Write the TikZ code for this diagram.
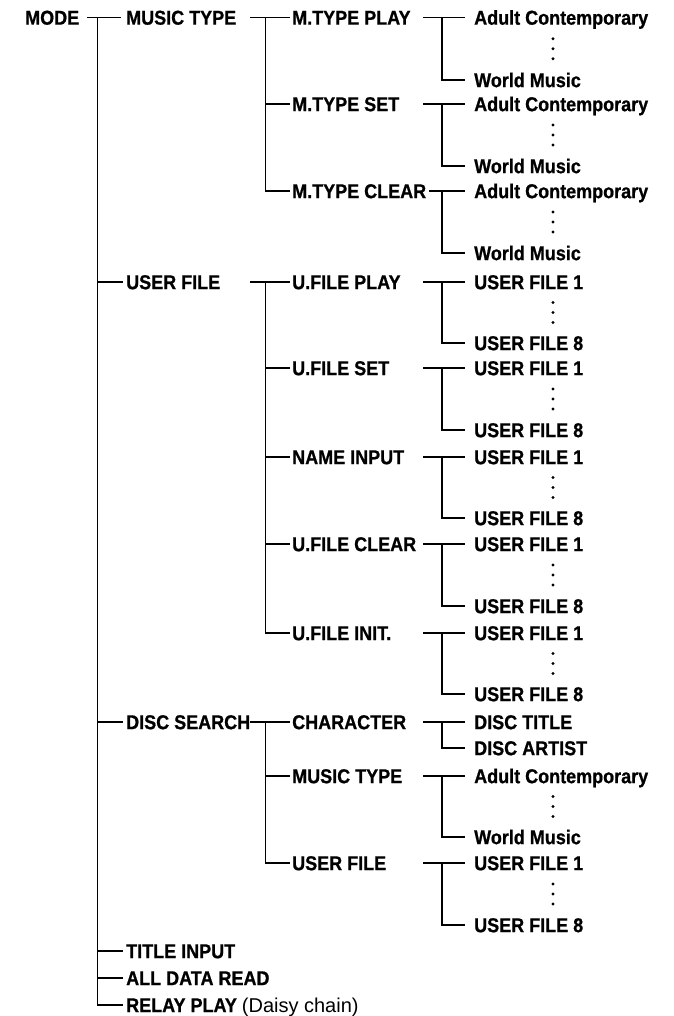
\documentclass[tikz,border=0pt]{standalone}
\usepackage{fontspec}
\setmainfont{Liberation Sans}[FakeStretch=0.9,BoldFeatures={FakeBold=0.8}]
\newfontfamily\plainsans{Liberation Sans}
\begin{document}
\begin{tikzpicture}[x=1pt,y=-1pt,
  lbl/.style={anchor=west,inner sep=0pt,text height=14.3pt,text depth=0pt,font=\bfseries\fontsize{20}{24}\selectfont},
  ln/.style={line width=1.1pt,line cap=rect}]
\useasboundingbox (0,0) rectangle (673,1016);
% level 0 and 1
\node[lbl] (mode) at (25,17.5) {MODE};
\node[lbl] (mt) at (126,17.5) {MUSIC TYPE};
\node[lbl] (uf) at (126,282) {USER FILE};
\node[lbl] (ds) at (126,722) {DISC SEARCH};
\node[lbl] (ti) at (126,951) {TITLE INPUT};
\node[lbl] (ad) at (126,978) {ALL DATA READ};
\node[lbl] (rp) at (126,1005) {RELAY PLAY {\plainsans\mdseries (Daisy chain)}};
% level 2
\node[lbl] (mtp) at (292,17.5) {M.TYPE PLAY};
\node[lbl] (mts) at (292,104) {M.TYPE SET};
\node[lbl] (mtc) at (292,191) {M.TYPE CLEAR};
\node[lbl] (ufp) at (292,282) {U.FILE PLAY};
\node[lbl] (ufs) at (292,368) {U.FILE SET};
\node[lbl] (ni) at (292,457) {NAME INPUT};
\node[lbl] (ufc) at (292,544) {U.FILE CLEAR};
\node[lbl] (ufi) at (292,633) {U.FILE INIT.};
\node[lbl] (ch) at (292,722) {CHARACTER};
\node[lbl] (dmt) at (292,776) {MUSIC TYPE};
\node[lbl] (duf) at (292,863) {USER FILE};
% level 3 with dots
\foreach \n/\ya/\yb/\sx/\ta/\tb in {
  mtp/17.5/80/424/Adult Contemporary/World Music,
  mts/104/166/424/Adult Contemporary/World Music,
  mtc/191/253/430/Adult Contemporary/World Music,
  ufp/282/343/424/USER FILE 1/USER FILE 8,
  ufs/368/430/424/USER FILE 1/USER FILE 8,
  ni/457/518/424/USER FILE 1/USER FILE 8,
  ufc/544/606/424/USER FILE 1/USER FILE 8,
  ufi/633/694/424/USER FILE 1/USER FILE 8,
  dmt/776/837/424/Adult Contemporary/World Music,
  duf/863/925/424/USER FILE 1/USER FILE 8}{
  \node[lbl] (\n-top) at (474,\ya) {\ta};
  \node[lbl] (\n-bot) at (474,\yb) {\tb};
  \coordinate (\n-start) at (\sx,\ya);
  \coordinate (\n-junc) at (442,\ya);
  \draw[ln,shorten >=10pt] (\n-start) -- (\n-top.west);
  \draw[ln,shorten >=10pt] (\n-junc) |- (\n-bot.west);
  \pgfmathsetmacro{\m}{(\ya+\yb)/2}
  \foreach \d in {-10,0,10} \fill (553,\m+\d) circle (1.6pt);
}
% character
\node[lbl] (ch-top) at (474,722) {DISC TITLE};
\node[lbl] (ch-bot) at (474,748) {DISC ARTIST};
\coordinate (ch-start) at (424,722);
\coordinate (ch-junc) at (442,722);
\draw[ln,shorten >=10pt] (ch-start) -- (ch-top.west);
\draw[ln,shorten >=10pt] (ch-junc) |- (ch-bot.west);
% level 1 -> level 2 connectors
\foreach \p/\r/\c/\l in {mt/17.5/mtp/mtc, uf/282/ufp/ufi, ds/722/ch/duf}{
  \coordinate (\p-start) at (251,\r);
  \coordinate (\p-junc) at (265.7,\r);
  \draw[ln,shorten >=3pt] (\p-start) -- (\c.west);
  \draw[ln,shorten >=3pt] (\p-junc) |- (\l.west);
}
\foreach \p/\c in {mt/mts, uf/ufs, uf/ni, uf/ufc, ds/dmt}{
  \draw[ln,shorten >=3pt] (\p-junc |- \c.west) -- (\c.west);
}
% level 0 -> level 1
\coordinate (mode-start) at (88,17.5);
\coordinate (mode-junc) at (97.7,17.5);
\draw[ln,shorten >=6pt] (mode-start) -- (mt.west);
\draw[ln,shorten >=4pt] (mode-junc) |- (rp.west);
\foreach \c in {uf, ds, ti, ad}{
  \draw[ln,shorten >=4pt] (mode-junc |- \c.west) -- (\c.west);
}
\end{tikzpicture}
\end{document}
